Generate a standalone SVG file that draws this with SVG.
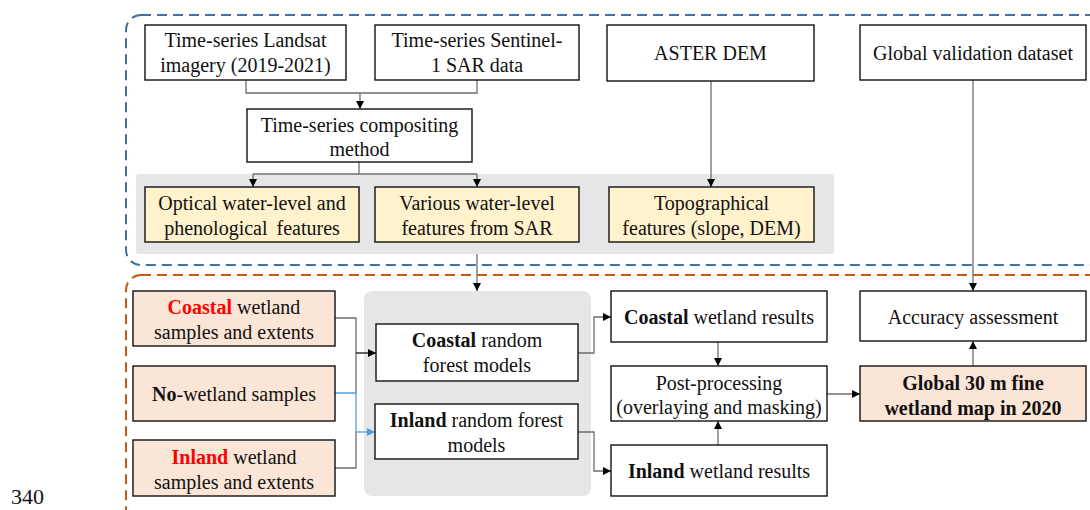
<svg xmlns="http://www.w3.org/2000/svg" width="1090" height="510" viewBox="0 0 1090 510">
<defs>
<style>
text{font-family:"Liberation Serif","Times New Roman",serif;font-size:20px;fill:#111;text-anchor:middle}
.b{font-weight:bold}
.r{fill:#FF0000;font-weight:bold}
.box{fill:#fff;stroke:#111;stroke-width:1.4}
.yel{fill:#FFF2CC;stroke:#111;stroke-width:1.4}
.pch{fill:#FBE5D6;stroke:#111;stroke-width:1.4}
.panel{fill:#E6E6E6;stroke:none}
.ln{fill:none;stroke:#6E6E6E;stroke-width:1.3}
.lnb{fill:none;stroke:#5B9BD5;stroke-width:1.3}
</style>
<marker id="ah" viewBox="0 0 10 10" refX="10" refY="5" markerWidth="8" markerHeight="8" markerUnits="userSpaceOnUse" orient="auto"><path d="M0,0 L10,5 L0,10 z" fill="#000"/></marker>
<marker id="ahb" viewBox="0 0 10 10" refX="10" refY="5" markerWidth="8" markerHeight="8" markerUnits="userSpaceOnUse" orient="auto"><path d="M0,0 L10,5 L0,10 z" fill="#5B9BD5"/></marker>
</defs>
<rect width="1090" height="510" fill="#fff"/>
<g id="regions">
<rect x="126" y="15" width="1000" height="250" rx="15" fill="none" stroke="#41719C" stroke-width="2" stroke-dasharray="10,6"/>
<rect x="126" y="275" width="1000" height="250" rx="15" fill="none" stroke="#C55A11" stroke-width="2" stroke-dasharray="10,6"/>
<rect class="panel" x="136" y="174" width="698" height="80" rx="3"/>
<rect class="panel" x="364" y="291" width="227" height="205" rx="8"/>
</g>
<g id="connectors">
<path class="ln" d="M246,80 V93 H477 V80"/>
<path class="ln" d="M360,93 V109" marker-end="url(#ah)"/>
<path class="ln" d="M359,162 V174"/>
<path class="ln" d="M253,174 H477"/>
<path class="ln" d="M253,174 V187" marker-end="url(#ah)"/>
<path class="ln" d="M477,174 V187" marker-end="url(#ah)"/>
<path class="ln" d="M711,81 V187" marker-end="url(#ah)"/>
<path class="ln" d="M973,80 V291" marker-end="url(#ah)"/>
<path class="ln" d="M477,254 V291" marker-end="url(#ah)"/>
<path class="ln" d="M335,318 H356 V393 M356,432 V468 H335"/>
<path class="lnb" d="M335,393 H356 V432"/>
<path class="ln" d="M356,353 H376" marker-end="url(#ah)" style="stroke:#111"/>
<path class="lnb" d="M356,432 H375" marker-end="url(#ahb)"/>
<path class="ln" d="M578,353 H594 V317 H611" marker-end="url(#ah)"/>
<path class="ln" d="M578,432 H594 V471 H611" marker-end="url(#ah)"/>
<path class="ln" d="M718,342 V366" marker-end="url(#ah)"/>
<path class="ln" d="M718,445 V421" marker-end="url(#ah)"/>
<path class="ln" d="M827,394 H860" marker-end="url(#ah)"/>
<path class="ln" d="M973,366 V341" marker-end="url(#ah)"/>
</g>
<g id="landsat"><rect class="box" x="145" y="25" width="201" height="55"/><text x="245.5" y="47">Time-series Landsat</text><text x="245.5" y="72">imagery (2019-2021)</text></g>
<g id="sentinel"><rect class="box" x="375" y="25" width="204" height="55"/><text x="477" y="47">Time-series Sentinel-</text><text x="477" y="72">1 SAR data</text></g>
<g id="aster"><rect class="box" x="607" y="25" width="207" height="56"/><text x="710.5" y="60">ASTER DEM</text></g>
<g id="validation"><rect class="box" x="860" y="25" width="226" height="55"/><text x="973" y="60">Global validation dataset</text></g>
<g id="compositing"><rect class="box" x="247" y="109" width="225" height="53"/><text x="359.5" y="132">Time-series compositing</text><text x="359.5" y="156">method</text></g>
<g id="optical"><rect class="yel" x="145" y="187" width="214" height="55"/><text x="252" y="210">Optical water-level and</text><text x="252" y="235" word-spacing="4">phenological features</text></g>
<g id="sarfeat"><rect class="yel" x="375" y="187" width="204" height="55"/><text x="477" y="210">Various water-level</text><text x="477" y="235">features from SAR</text></g>
<g id="topo"><rect class="yel" x="609" y="187" width="205" height="55"/><text x="711.5" y="210">Topographical</text><text x="711.5" y="235">features (slope, DEM)</text></g>
<g id="coastal-samples"><rect class="pch" x="133" y="291" width="202" height="55"/><text x="234" y="314"><tspan class="r">Coastal</tspan> wetland</text><text x="234" y="339">samples and extents</text></g>
<g id="nowetland"><rect class="pch" x="133" y="366" width="202" height="55"/><text x="234" y="401"><tspan class="b">No</tspan>-wetland samples</text></g>
<g id="inland-samples"><rect class="pch" x="133" y="440" width="202" height="56"/><text x="234" y="464"><tspan class="r">Inland</tspan> wetland</text><text x="234" y="489">samples and extents</text></g>
<g id="coastal-rf"><rect class="box" x="376" y="324" width="202" height="57"/><text x="477" y="347"><tspan class="b">Coastal</tspan> random</text><text x="477" y="372">forest models</text></g>
<g id="inland-rf"><rect class="box" x="375" y="404" width="203" height="55"/><text x="476.5" y="427"><tspan class="b">Inland</tspan> random forest</text><text x="476.5" y="452">models</text></g>
<g id="coastal-results"><rect class="box" x="611" y="291" width="216" height="51"/><text x="719" y="324"><tspan class="b">Coastal</tspan> wetland results</text></g>
<g id="postproc"><rect class="box" x="611" y="366" width="216" height="55"/><text x="719" y="390">Post-processing</text><text x="719" y="414">(overlaying and masking)</text></g>
<g id="inland-results"><rect class="box" x="611" y="445" width="216" height="51"/><text x="719" y="478"><tspan class="b">Inland</tspan> wetland results</text></g>
<g id="accuracy"><rect class="box" x="860" y="291" width="226" height="50"/><text x="973" y="324">Accuracy assessment</text></g>
<g id="global-map"><rect class="pch" x="860" y="366" width="226" height="55"/><text class="b" x="973" y="390">Global 30 m fine</text><text class="b" x="973" y="415">wetland map in 2020</text></g>
<text x="11" y="504" style="font-size:22px;text-anchor:start">340</text>
</svg>
